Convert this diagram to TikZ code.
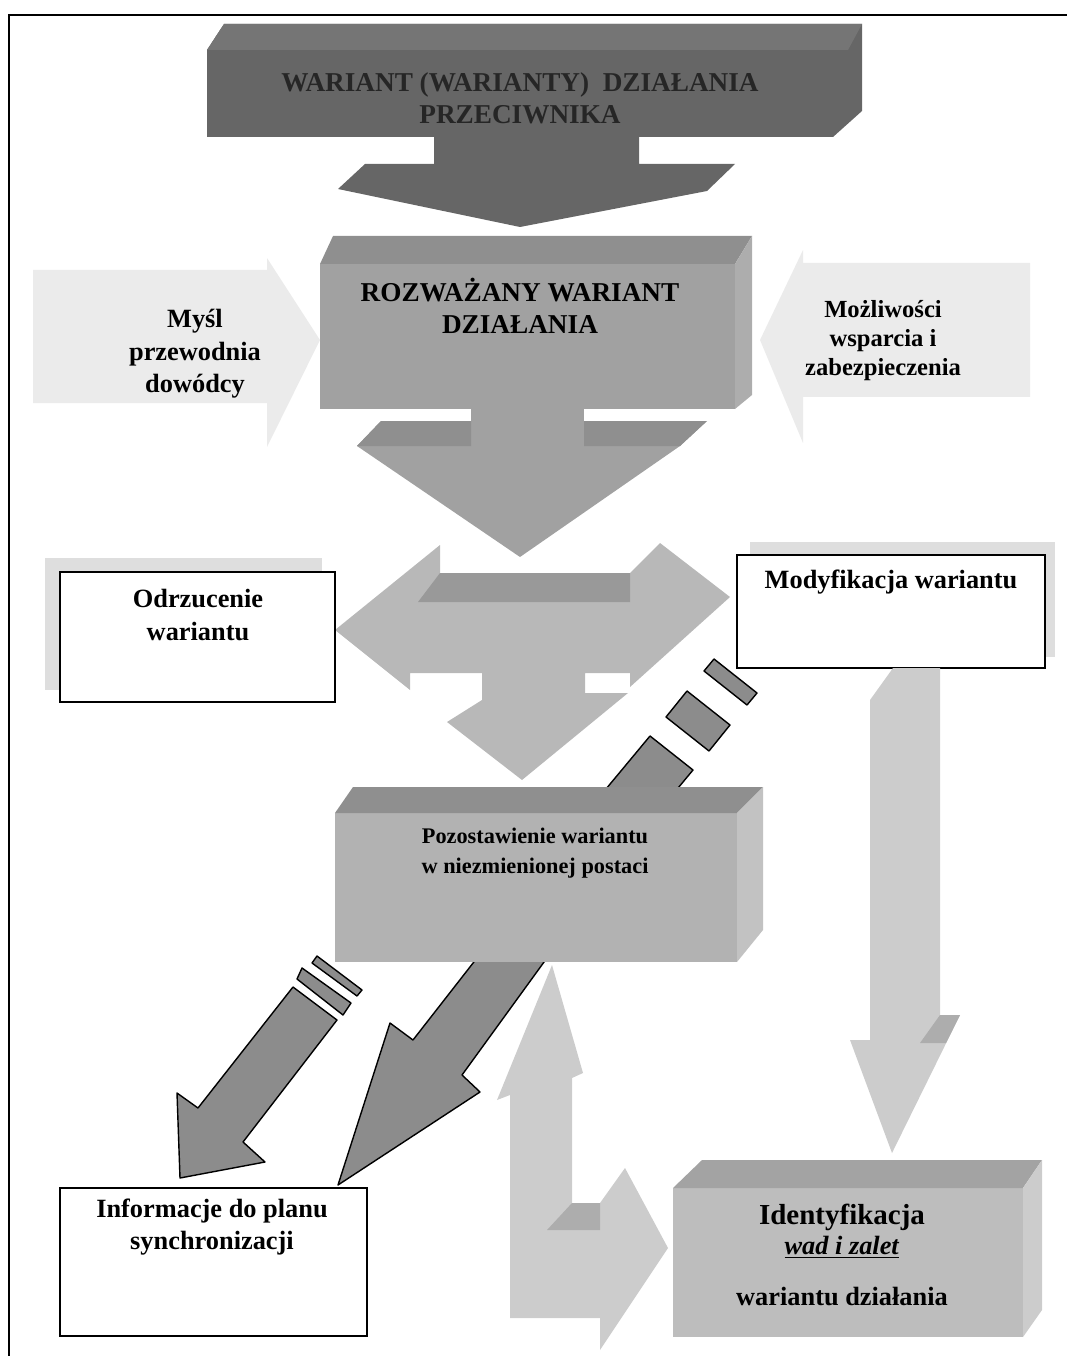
\documentclass[tikz,border=0pt]{standalone}
\usepackage{fontspec}
\setmainfont{Liberation Serif}
\usepackage{tikz}

\definecolor{cenemy}{gray}{0.40}
\definecolor{cenemytop}{gray}{0.46}
\definecolor{ctext}{gray}{0.15}
\definecolor{cmid}{gray}{0.63}
\definecolor{cmidtop}{gray}{0.56}
\definecolor{cmidside}{gray}{0.68}
\definecolor{cpale}{gray}{0.92}
\definecolor{ct}{gray}{0.72}
\definecolor{cttop}{gray}{0.60}
\definecolor{cshadow}{gray}{0.87}
\definecolor{cdark}{gray}{0.55}
\definecolor{clight}{gray}{0.80}
\definecolor{clighttop}{gray}{0.68}
\definecolor{cbox}{gray}{0.70}
\definecolor{cboxtop}{gray}{0.56}
\definecolor{cboxside}{gray}{0.76}
\definecolor{cid}{gray}{0.74}
\definecolor{cidtop}{gray}{0.64}
\definecolor{cidside}{gray}{0.80}

\begin{document}
\begin{tikzpicture}[x=0.2mm,y=-0.2mm,
    headtxt/.style={font=\bfseries\fontsize{15.5}{18}\selectfont,align=center},
    txt/.style={font=\bfseries\fontsize{15}{18.4}\selectfont,align=center},
    narrowtxt/.style={font=\bfseries\fontsize{14}{16.5}\selectfont,align=center},
    smalltxt/.style={font=\bfseries\fontsize{12.7}{17}\selectfont,align=center},
    whitebox/.style={draw=black,line width=1.1pt,fill=white},
    darkarrow/.style={draw=black,thick,fill=cdark,line join=round}]
        \useasboundingbox (0,0) rectangle (1067,1356);

        % frame
        \draw[line width=1.1pt] (1067,15) -- (9,15) -- (9,1356);

        % enemy course of action
        \fill[cenemy] (224,24) -- (862,24) -- (862,111) -- (833,137) -- (639,137) -- (639,164) -- (735,164) -- (707,191) -- (520,227) -- (338,189) -- (365,164) -- (434,164) -- (434,137) -- (207,137) -- (207,50) -- cycle;
        \fill[cenemytop] (224,24) -- (862,24) -- (848,50) -- (207,50) -- cycle;
        \node[headtxt,text=ctext] (enemy) at (520,98) {WARIANT (WARIANTY)\ \ DZIAŁANIA\\PRZECIWNIKA};

        % considered course of action
        \fill[cmid] (320,264) rectangle (735,409);
        \fill[cmidtop] (320,264) -- (333,236) -- (752,236) -- (735,264) -- cycle;
        \fill[cmidside] (735,264) -- (752,236) -- (752,395) -- (735,409) -- cycle;
        \fill[cmid] (471,405) rectangle (584,425);
        \fill[cmid] (357,446) -- (381,421) -- (707,421) -- (680,446) -- (520,557) -- cycle;
        \fill[cmidtop] (357,446) -- (381,421) -- (471,421) -- (471,446) -- cycle;
        \fill[cmidtop] (584,421) -- (707,421) -- (680,446) -- (584,446) -- cycle;
        \node[headtxt] (considered) at (520,306) {ROZWAŻANY WARIANT\\DZIAŁANIA};

        % side inputs
        \fill[cpale] (33,270) -- (267,270) -- (267,258) -- (320,340) -- (267,447) -- (267,403) -- (33,403) -- cycle;
        \node[txt] (intent) at (195,354) {Myśl\\przewodnia\\dowódcy};
        \fill[cpale] (1030,263) -- (803,263) -- (803,250) -- (760,340) -- (803,443) -- (803,397) -- (1030,397) -- cycle;
        \node[narrowtxt] (support) at (883,341) {Możliwości\\wsparcia i\\zabezpieczenia};

        % three-way split
        \fill[ct] (335,630) -- (440,545) -- (440,573) -- (630,573) -- (660,543) -- (730,597) -- (630,687) -- (630,673) -- (585,673) -- (585,693) -- (628,693) -- (522,780) -- (447,722) -- (482,700) -- (482,673) -- (410,673) -- (410,690) -- cycle;
        \fill[cttop] (440,573) -- (630,573) -- (630,602) -- (418,602) -- cycle;

        % rejection
        \fill[cshadow] (45,558) rectangle (322,690);
        \draw[whitebox] (60,572) rectangle (335,702);
        \node[txt] (reject) at (198,615) {Odrzucenie\\wariantu};

        % modification
        \fill[cshadow] (750,542) rectangle (1055,657);
        \draw[whitebox] (737,555) rectangle (1045,668);
        \node[txt] (modify) at (891,582) {Modyfikacja wariantu};

        % modification to identification
        \fill[clight] (870,700) -- (893,668) -- (940,668) -- (940,1015) -- (960,1015) -- (892,1153) -- (850,1040) -- (870,1040) -- cycle;
        \fill[clighttop] (920,1043) -- (940,1015) -- (960,1015) -- (946,1043) -- cycle;

        % modification back to the kept variant (striped)
        \filldraw[darkarrow] (650,736) -- (693,770) -- (629,847) -- (586,813) -- cycle;
        \filldraw[darkarrow] (666,717) -- (709,751) -- (730,725) -- (687,691) -- cycle;
        \filldraw[darkarrow] (704,671) -- (747,705) -- (757,693) -- (714,659) -- cycle;

        % kept variant to synchronization
        \filldraw[darkarrow] (491,940) -- (413,1040) -- (390,1023) -- (338,1185) -- (480,1092) -- (462,1075) -- (560,940) -- cycle;
        \filldraw[darkarrow] (293,987) -- (198,1108) -- (177,1093) -- (180,1178) -- (265,1162) -- (243,1142) -- (337,1020) -- cycle;
        \filldraw[darkarrow] (297,979) -- (302,968) -- (351,1003) -- (343,1015) -- cycle;
        \filldraw[darkarrow] (312,963) -- (317,956) -- (362,990) -- (357,996) -- cycle;

        % kept variant and identification
        \fill[clight] (510,1318) -- (510,1095) -- (497,1100) -- (552,965) -- (583,1073) -- (572,1078) -- (572,1203) -- (600,1203) -- (625,1168) -- (668,1248) -- (600,1350) -- (600,1318) -- cycle;
        \fill[clighttop] (547,1230) -- (572,1203) -- (600,1203) -- (600,1230) -- cycle;

        % kept variant
        \fill[cbox] (335,813) rectangle (737,962);
        \fill[cboxtop] (335,813) -- (353,787) -- (763,787) -- (737,813) -- cycle;
        \fill[cboxside] (737,813) -- (763,787) -- (763,930) -- (737,962) -- cycle;
        \node[smalltxt] (keep) at (535,853) {Pozostawienie wariantu\\w niezmienionej postaci};

        % synchronization
        \draw[whitebox] (60,1188) rectangle (367,1336);
        \node[txt] (sync) at (212,1227) {Informacje do planu\\synchronizacji};

        % identification
        \fill[cid] (673,1188) rectangle (1023,1337);
        \fill[cidtop] (673,1188) -- (702,1160) -- (1042,1160) -- (1023,1188) -- cycle;
        \fill[cidside] (1023,1188) -- (1042,1160) -- (1042,1310) -- (1023,1337) -- cycle;
        \node[txt,font=\bfseries\fontsize{16.5}{18}\selectfont] (ident) at (842,1217) {Identyfikacja};
        \node[txt] (pros) at (842,1247) {\underline{\textit{wad i zalet}}};
        \node[txt] (ofvariant) at (842,1297) {wariantu działania};

      \end{tikzpicture}
\end{document}
